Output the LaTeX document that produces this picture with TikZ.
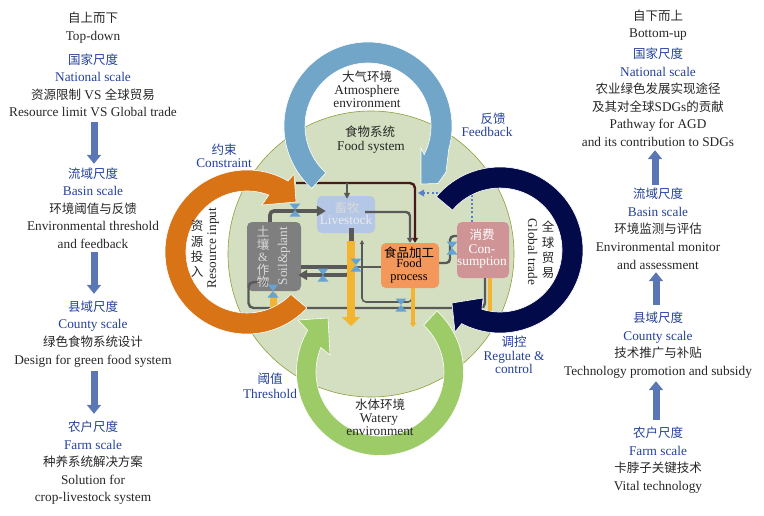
\documentclass[tikz,border=0pt]{standalone}
\usepackage{fontspec}
\setmainfont{Liberation Serif}
\newfontfamily\cjk{Noto Sans CJK SC}
\usetikzlibrary{arrows.meta,calc}
\definecolor{circfill}{HTML}{D3DFC0}
\definecolor{circline}{HTML}{8E9E3A}
\definecolor{ringblue}{HTML}{71A6C8}
\definecolor{ringorange}{HTML}{D87316}
\definecolor{ringgreen}{HTML}{9CCB67}
\definecolor{ringnavy}{HTML}{020A4A}
\definecolor{labelblue}{HTML}{23409A}
\definecolor{flowgray}{HTML}{595959}
\definecolor{flowmaroon}{HTML}{4A1A1A}
\definecolor{flowyellow}{HTML}{F2B431}
\definecolor{valvecol}{HTML}{66A3D2}
\definecolor{dotblue}{HTML}{5B7FC7}
\definecolor{scalearrow}{HTML}{5B76B5}
\definecolor{soilgray}{HTML}{7F7F7F}
\definecolor{livefill}{HTML}{B4C7E7}
\definecolor{foodfill}{HTML}{F4975A}
\definecolor{consfill}{HTML}{CF9496}
\newcommand\C[1]{{\fontsize{12.5}{15}\selectfont\cjk #1}}
\newcommand\T[5][txt]{\node[#1] (#2) at (#3,#4) {#5};}
\newcommand\valve[3]{\coordinate (#1) at (#2,#3);
  \fill[valvecol] ($(#1)+(-5.5,-6.5)$) -- ($(#1)+(5.5,-6.5)$) -- ($(#1)+(-5.5,6.5)$) -- ($(#1)+(5.5,6.5)$) -- cycle;}
\tikzset{
  txt/.style={inner sep=0pt,text height=10pt,text depth=2pt,font=\fontsize{13.3}{15}\selectfont,text=black!85},
  bluetxt/.style={txt,text=labelblue},
  tighttxt/.style={txt,text height=7pt,text depth=1.5pt,yshift=-1.25pt},
  stackchars/.style={inner sep=0pt,align=center,font=\fontsize{12.5}{15.2}\selectfont,text=black!85},
  box/.style={rounded corners=5pt,inner sep=0pt,draw=none},
  ring/.style={draw=white,line width=0.6pt},
  scalearr/.style={draw=scalearrow,line width=7pt,-{Triangle[length=9pt,width=14pt]}},
  thinflow/.style={draw=flowgray,line width=1.6pt,rounded corners=4pt},
  midflow/.style={draw=flowgray,line width=2.4pt,rounded corners=4pt},
  thickflow/.style={draw=flowgray,line width=3.6pt,rounded corners=4pt},
  maroonflow/.style={draw=flowmaroon,line width=2.4pt,rounded corners=5pt},
  yellowflow/.style={draw=flowyellow},
}
\begin{document}
\begin{tikzpicture}[x=1pt,y=-1pt]
\useasboundingbox (0,0) rectangle (764,515);
% food system disc
\fill[circfill,draw=circline,line width=0.6pt] (371,254) circle[radius=143];
% process boxes
\node[box,fill=soilgray,minimum width=54pt,minimum height=69pt] (soil) at (274,256.5) {};
\node[box,fill=livefill,minimum width=58pt,minimum height=37pt] (live) at (346,214.5) {};
\node[box,fill=foodfill,minimum width=58pt,minimum height=45pt] (food) at (410,265.5) {};
\node[box,fill=consfill,minimum width=52pt,minimum height=56pt] (cons) at (483,250) {};
% flows
\coordinate (mStart) at (296,183);
\coordinate (mJoin) at (347,183);
\draw[maroonflow,-{Triangle[length=5pt,width=6pt]}] (mStart) -- (415,183) -- ([xshift=5pt]food.north);
\draw[thinflow,-{Triangle[length=6pt,width=6pt]}] (mJoin) -- ([yshift=-3pt]live.north -| mJoin);
\draw[thickflow,-{Triangle[length=9pt,width=10pt]}] ([xshift=-4pt]soil.north) |- ([xshift=9pt,yshift=3.5pt]live.west);
\draw[midflow,-{Triangle[length=5pt,width=6pt]}] ([xshift=19pt,yshift=2.5pt]live.center) -- (410,212) -- (food.north);
\draw[midflow] ([yshift=-1.5pt]food.west) -- (352,267);
\coordinate (jn) at (350,267);
\draw[thickflow] (jn) -- ([yshift=-10.5pt]soil.east);
\draw[thickflow,-{Triangle[length=9pt,width=10pt]}] (jn) |- ([xshift=-3pt,yshift=-18.5pt]soil.east);
\coordinate (loopTop) at (362,240);
\draw[thinflow,-{Triangle[length=4pt,width=4pt]}] ([xshift=2pt]food.south) -- (412,302) -- (362,302) -- (loopTop);
\draw[midflow,rounded corners=5pt] ([xshift=-5pt,yshift=9pt]soil.south) -- (248.5,282) -- (248.5,308) -- (485,308) -- ([xshift=2pt]cons.south);
\draw[midflow] ([yshift=2.5pt]food.east) -- (450,263) -- (450,236) -- ([yshift=14pt]cons.west);
\draw[dotblue,line width=2pt,dash pattern=on 2pt off 2.2pt] ([xshift=-11pt]cons.north) -- (472,193) -- (424,193);
\fill[dotblue] (424,189.5) -- (424,196.5) -- (418,193) -- cycle;
% yellow outflows
\draw[flowgray,line width=5pt] ([xshift=5pt,yshift=5pt]live.south) -- (351,241);
\coordinate (ysplit) at (351,241);
\coordinate (yend) at (351,326);
\draw[yellowflow,line width=8pt,-{Triangle[length=9pt,width=18pt]}] (ysplit) -- (yend);
\draw[yellowflow,line width=4.5pt,-{Triangle[length=4pt,width=6pt]}] ([xshift=3pt]food.south) -- (413,327);
\draw[yellowflow,line width=4.5pt] ([xshift=7pt]cons.south) -- (490,313);
\draw[yellowflow,line width=7pt] ([xshift=-1pt,yshift=-2pt]soil.south) -- (273,312);
% box texts
\node[stackchars,text=white!85!black,font=\fontsize{12.5}{12.6}\selectfont] (soilzh) at (263,257) {\C{土}\\\C{壤}\\\&\\\C{作}\\\C{物}};
\node[txt,text=white!85!black,rotate=90] (soilen) at (283,256) {Soil\&plant};
\T[tighttxt,text=white!85!black]{livezh}{347}{208}{\C{畜牧}}
\T[tighttxt,text=white!92!black]{liveen}{346}{220}{Livestock}
\T[tighttxt,text=black]{foodzh}{409}{253.5}{\C{食品加工}}
\node[inner sep=0pt,align=center,text=black,font=\fontsize{12.4}{12.4}\selectfont] (fooden) at (409,271) {Food\\process};
\T[tighttxt,text=white]{conszh}{482}{235}{\C{消费}}
\T[tighttxt,text=white]{consen}{482}{249}{Con-}
\T[tighttxt,text=white]{consenb}{482}{261}{sumption}
% rings
\filldraw[ringblue,ring] ([shift={(368,126)}]132:84) arc[start angle=132,end angle=376,radius=84]
  -- (446,172) -- (438,183.5) -- (421,184) -- (421,148) -- ([shift={(368,126)}]27:63) arc[start angle=387,end angle=132,radius=63] -- cycle;
\filldraw[ringorange,ring] ([shift={(247,252)}]43:82) arc[start angle=43,end angle=300,radius=82]
  -- (294,174) -- (296,202) -- (262,205) -- ([shift={(247,252)}]291:61) arc[start angle=291,end angle=44,radius=61] -- cycle;
\filldraw[ringgreen,ring] ([shift={(380,372)}]-47:83.5) arc[start angle=-47,end angle=210,radius=83.5]
  -- (298,320) -- (328,318) -- (330,355) -- ([shift={(380,372)}]202.5:64) arc[start angle=202.5,end angle=-47,radius=64] -- cycle;
\filldraw[ringnavy,ring] ([shift={(500,250)}]220:83) arc[start angle=220,end angle=477.5,radius=83]
  -- (455,332) -- (452,303) -- (483,298) -- ([shift={(500,250)}]467:62) arc[start angle=467,end angle=220,radius=62] -- cycle;
% valves
\valve{v1}{295}{210}
\valve{v2}{323}{275}
\valve{v3}{356}{265}
\valve{v4}{273}{291}
\valve{v5}{401}{305}
\valve{v6}{452}{248}
% central labels
\T{fszh}{370}{132}{\C{食物系统}}
\T{fsen}{371}{146}{Food system}
\T[tighttxt]{atzh}{367}{77}{\C{大气环境}}
\T[tighttxt]{aten}{367}{90}{Atmosphere}
\T[tighttxt]{atenb}{367}{103}{environment}
\T[tighttxt]{wazh}{380}{405}{\C{水体环境}}
\T[tighttxt]{waen}{379}{418}{Watery}
\T[tighttxt]{waenb}{380}{431}{environment}
\node[stackchars] (glzh) at (548,250) {\C{全}\\\C{球}\\\C{贸}\\\C{易}};
\node[txt,rotate=-90] (glen) at (532,252) {Global trade};
\node[stackchars] (rezh) at (197,249) {\C{资}\\\C{源}\\\C{投}\\\C{入}};
\node[txt,rotate=90] (reen) at (212,248) {Resource input};
\T[bluetxt]{cozh}{224}{150}{\C{约束}}
\T[bluetxt]{coen}{224}{163}{Constraint}
\T[bluetxt]{fbzh}{493}{119}{\C{反馈}}
\T[bluetxt]{fben}{487}{132}{Feedback}
\T[bluetxt]{rgzh}{514}{342}{\C{调控}}
\T[bluetxt]{rgen}{514}{356}{Regulate \&}
\T[bluetxt]{rgenb}{514}{369}{control}
\T[bluetxt]{thzh}{270}{379}{\C{阈值}}
\T[bluetxt]{then}{270}{394}{Threshold}
% left column
\T{l0a}{93}{18}{\C{自上而下}}
\T{l0b}{93}{36}{Top-down}
\T[bluetxt]{l1a}{93}{60}{\C{国家尺度}}
\T[bluetxt]{l1b}{93}{77}{National scale}
\T{l1c}{93}{95}{\C{资源限制} VS \C{全球贸易}}
\T{l1d}{93}{112}{Resource limit VS Global trade}
\T[bluetxt]{l2a}{93}{174}{\C{流域尺度}}
\T[bluetxt]{l2b}{93}{191}{Basin scale}
\T{l2c}{93}{209}{\C{环境阈值与反馈}}
\T{l2d}{93}{226}{Environmental threshold}
\T{l2e}{93}{244}{and feedback}
\T[bluetxt]{l3a}{93}{307}{\C{县域尺度}}
\T[bluetxt]{l3b}{93}{324}{County scale}
\T{l3c}{93}{342}{\C{绿色食物系统设计}}
\T{l3d}{93}{360}{Design for green food system}
\T[bluetxt]{l4a}{93}{427}{\C{农户尺度}}
\T[bluetxt]{l4b}{93}{445}{Farm scale}
\T{l4c}{93}{462}{\C{种养系统解决方案}}
\T{l4d}{93}{480}{Solution for}
\T{l4e}{93}{497}{crop-livestock system}
\draw[scalearr] ([xshift=1pt,yshift=-4pt]l1d.south) -- ([xshift=1pt,yshift=4pt]l2a.north);
\draw[scalearr] ([xshift=1pt,yshift=-2pt]l2e.south) -- ([xshift=1pt,yshift=7pt]l3a.north);
\draw[scalearr] ([xshift=1pt,yshift=-5pt]l3d.south) -- ([xshift=1pt,yshift=7pt]l4a.north);
% right column
\T{r0a}{658}{16}{\C{自下而上}}
\T{r0b}{658}{33}{Bottom-up}
\T[bluetxt]{r1a}{658}{54}{\C{国家尺度}}
\T[bluetxt]{r1b}{658}{72}{National scale}
\T{r1c}{658}{89}{\C{农业绿色发展实现途径}}
\T{r1d}{658}{107}{\C{及其对全球}SDGs\C{的贡献}}
\T{r1e}{658}{124}{Pathway for AGD}
\T{r1f}{658}{142}{and its contribution to SDGs}
\T[bluetxt]{r2a}{658}{194}{\C{流域尺度}}
\T[bluetxt]{r2b}{658}{212}{Basin scale}
\T{r2c}{658}{229}{\C{环境监测与评估}}
\T{r2d}{658}{247}{Environmental monitor}
\T{r2e}{658}{265}{and assessment}
\T[bluetxt]{r3a}{658}{318}{\C{县域尺度}}
\T[bluetxt]{r3b}{658}{336}{County scale}
\T{r3c}{658}{353}{\C{技术推广与补贴}}
\T{r3d}{658}{371}{Technology promotion and subsidy}
\T[bluetxt]{r4a}{658}{433}{\C{农户尺度}}
\T[bluetxt]{r4b}{658}{451}{Farm scale}
\T{r4c}{658}{468}{\C{卡脖子关键技术}}
\T{r4d}{658}{486}{Vital technology}
\draw[scalearr] ([xshift=-3pt,yshift=3pt]r2a.north) -- ([xshift=-3pt,yshift=-2pt]r1f.south);
\draw[scalearr] ([xshift=-2pt,yshift=7pt]r3a.north) -- ([xshift=-2pt,yshift=-1pt]r2e.south);
\draw[scalearr] ([xshift=-2pt,yshift=7pt]r4a.north) -- ([xshift=-2pt,yshift=-4pt]r3d.south);
\end{tikzpicture}
\end{document}
